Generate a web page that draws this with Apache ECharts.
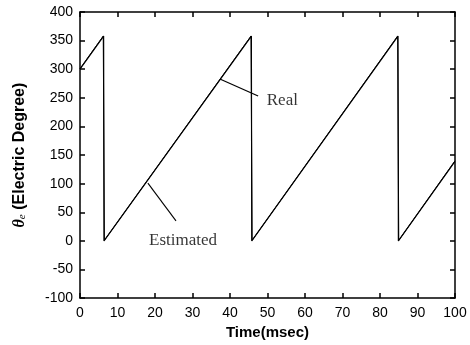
<!DOCTYPE html>
<html><head><meta charset="utf-8">
<script src="https://cdn.jsdelivr.net/npm/echarts@6/dist/echarts.min.js"></script>
<style>html,body{margin:0;padding:0;background:#fff}#c{width:470px;height:345px}</style>
</head><body><div id="c"></div>
<script>
// Time (ms) and angle (electric degree)
const realT = [0, 6.3, 6.4, 45.7, 45.8, 84.8, 84.9, 100];
const realV = [300, 358, 0, 358, 0, 358, 0, 139];
const estT = [0, 6.2, 6.5, 45.6, 45.9, 84.7, 85.0, 100];
const estV = [301, 358, 1, 358, 1, 358, 1, 140];
const realLeaderT = [37.3, 47.5];
const realLeaderV = [283, 253];
const estLeaderT = [18.1, 25.6];
const estLeaderV = [101, 35];
const labels = ['Real', 'Estimated'];
const labelT = [49.8, 18.4];
const labelV = [246, 1];
const xTicks = [0,10,20,30,40,50,60,70,80,90,100];
const yTicks = [-100,-50,0,50,100,150,200,250,300,350,400];

const zip = (a,b) => a.map((v,i)=>[v,b[i]]);
const chart = echarts.init(document.getElementById('c'));
const axisFont = {fontFamily:'Liberation Sans, Arial', fontSize:14, color:'#000'};
const line = {lineStyle:{color:'#000', width:1.5}};
chart.setOption({
  animation:false,
  grid:{left:80, right:15, top:12, bottom:46},
  xAxis:[{type:'value', min:0, max:100, interval:10, position:'bottom',
    axisLine:{onZero:false, ...line}, axisTick:{inside:true, length:5, ...line},
    axisLabel:{...axisFont, margin:8}, splitLine:{show:false},
    name:'Time(msec)', nameLocation:'middle', nameGap:26,
    nameTextStyle:{fontFamily:'Liberation Sans, Arial', fontWeight:'bold', fontSize:15, color:'#000'}},
    {type:'value', min:0, max:100, interval:10, position:'top',
    axisLine:{onZero:false, ...line}, axisTick:{inside:true, length:5, ...line},
    axisLabel:{show:false}, splitLine:{show:false}}],
  yAxis:[{type:'value', min:-100, max:400, interval:50, position:'left',
    axisLine:{onZero:false, ...line}, axisTick:{inside:true, length:5, ...line},
    axisLabel:{...axisFont, margin:7}, splitLine:{show:false},
    name:'{t|θ}{s|e}{b| (Electric Degree)}', nameLocation:'middle', nameGap:52, nameRotate:90,
    nameTextStyle:{rich:{
      t:{fontFamily:'Liberation Serif', fontStyle:'italic', fontWeight:'bold', fontSize:16, color:'#000'},
      s:{fontFamily:'Liberation Serif', fontStyle:'italic', fontSize:11, color:'#000', verticalAlign:'bottom', padding:[6,0,0,0]},
      b:{fontFamily:'Liberation Sans, Arial', fontWeight:'bold', fontSize:16, color:'#000'}}}},
    {type:'value', min:-100, max:400, interval:50, position:'right',
    axisLine:{onZero:false, ...line}, axisTick:{inside:true, length:5, ...line},
    axisLabel:{show:false}, splitLine:{show:false}}],
  series:[
    {type:'line', data:zip(realT, realV), symbol:'none', lineStyle:{color:'#000', width:1.2}},
    {type:'line', data:zip(estT, estV), symbol:'none', lineStyle:{color:'#000', width:1}},
    {type:'line', data:zip(realLeaderT, realLeaderV), symbol:'none', lineStyle:{color:'#000', width:1.1}},
    {type:'line', data:zip(estLeaderT, estLeaderV), symbol:'none', lineStyle:{color:'#000', width:1.1}},
    {type:'scatter', symbolSize:0, data:labels.map((l,i)=>({value:[labelT[i], labelV[i]], name:l})),
      label:{show:true, position:'right', distance:0, formatter:p=>p.name,
        fontFamily:'Liberation Serif', fontSize:17, color:'#000'}}
  ]
});
</script></body></html>
